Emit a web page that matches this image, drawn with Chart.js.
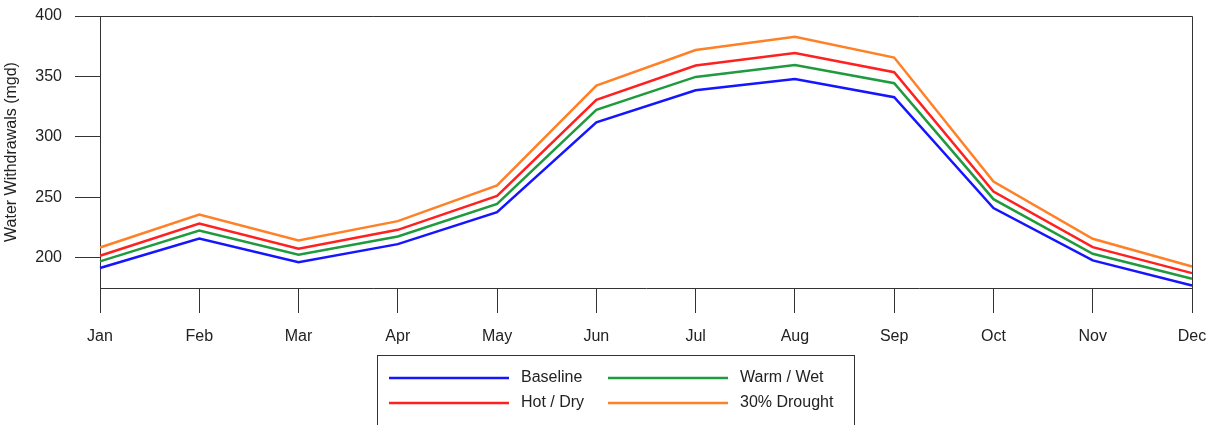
<!DOCTYPE html>
<html>
<head>
<meta charset="utf-8">
<script src="https://cdn.jsdelivr.net/npm/chart.js@4"></script>
<style>
  html, body { margin: 0; padding: 0; background: #fff; }
  #wrap { width: 1217px; height: 425px; }
</style>
</head>
<body>
<div id="wrap"><canvas id="chart" width="1217" height="425"></canvas></div>
<script>
// data
const months = ["Jan", "Feb", "Mar", "Apr", "May", "Jun", "Jul", "Aug", "Sep", "Oct", "Nov", "Dec"];
const baseline = [191.5, 216, 196.4, 211.3, 237.7, 312, 338.6, 347.9, 332.8, 241.1, 197.8, 177.1];
const warmWet  = [197, 222.6, 202.5, 217.6, 244.6, 322.3, 349.6, 359.5, 344.4, 248.5, 203.3, 182.6];
const hotDry   = [201.7, 228.4, 207.4, 223.1, 251.2, 330.6, 359, 369.4, 353.5, 254.8, 208.8, 187.3];
const drought  = [208.5, 235.8, 214.3, 230.3, 259.8, 342.4, 371.9, 382.9, 365.6, 263.1, 215.7, 192.8];
const majorTicks = [200, 250, 300, 350, 400];
const minorTicks = [175, 225, 275, 325, 375];

const axisColor = "#333";
const textColor = "#222";
const font = { family: "'Liberation Sans', Arial, sans-serif", size: 16 };

// box around plot area + custom boxed legend
const framePlugin = {
    id: "frame",
    afterDraw(chart) {
        const ctx = chart.ctx;
        const a = chart.chartArea;
        ctx.save();
        ctx.strokeStyle = axisColor;
        ctx.lineWidth = 1;
        ctx.beginPath();
        ctx.moveTo(a.left, a.top + 0.5);
        ctx.lineTo(a.right + 0.5, a.top + 0.5);
        ctx.lineTo(a.right + 0.5, a.bottom);
        ctx.stroke();

        // legend
        const bx = 377, by = 355, bw = 477;
        ctx.strokeStyle = "#333";
        ctx.strokeRect(bx + 0.5, by + 0.5, bw, 120);
        ctx.font = "16px 'Liberation Sans', Arial, sans-serif";
        ctx.textBaseline = "middle";
        ctx.fillStyle = textColor;
        chart.data.datasets.forEach((ds, i) => {
            const col = i % 2, row = Math.floor(i / 2);
            const x = bx + 12 + col * 219;
            const y = 378 + row * 25;
            ctx.strokeStyle = ds.borderColor;
            ctx.lineWidth = 2.5;
            ctx.beginPath();
            ctx.moveTo(x, y);
            ctx.lineTo(x + 120, y);
            ctx.stroke();
            ctx.fillText(ds.label, x + 132, y);
        });
        ctx.restore();
    }
};

const noPadY = (w) => (s) => { s.width = w; s.paddingTop = 0; s.paddingBottom = 0; };

new Chart(document.getElementById("chart"), {
    type: "line",
    data: {
        labels: months,
        datasets: [
            { label: "Baseline", data: baseline, borderColor: "#1515ff" },
            { label: "Warm / Wet", data: warmWet, borderColor: "#1f9a3e" },
            { label: "Hot / Dry", data: hotDry, borderColor: "#ff2020" },
            { label: "30% Drought", data: drought, borderColor: "#ff8026" },
        ].map((d) => ({ ...d, borderWidth: 2.5, pointRadius: 0, tension: 0, fill: false })),
    },
    options: {
        responsive: false,
        animation: false,
        layout: { padding: { top: 16, right: 25, left: 0, bottom: 0 } },
        plugins: { legend: { display: false }, tooltip: { enabled: false } },
        scales: {
            x: {
                offset: false,
                grid: { drawOnChartArea: false, tickLength: 25, color: axisColor },
                border: { display: true, color: axisColor },
                ticks: { color: textColor, font: font, padding: 14, maxRotation: 0 },
                afterFit: (s) => { s.height = 137; s.paddingLeft = 0; s.paddingRight = 0; },
            },
            y: {
                position: "left",
                min: 175,
                max: 400,
                afterBuildTicks: (s) => { s.ticks = majorTicks.map((v) => ({ value: v })); },
                grid: { drawOnChartArea: false, tickLength: 25, color: axisColor },
                border: { display: true, color: axisColor },
                ticks: { color: textColor, font: font, padding: 13 },
                title: { display: true, text: "Water Withdrawals (mgd)", color: textColor, font: font, padding: { top: 2, bottom: 0 } },
                afterFit: noPadY(100),
            },
            yMinor: {
                position: "left",
                min: 175,
                max: 400,
                afterBuildTicks: (s) => { s.ticks = minorTicks.map((v) => ({ value: v })); },
                grid: { drawOnChartArea: false, tickLength: 12, color: axisColor },
                border: { display: false },
                ticks: { display: false },
                afterFit: noPadY(0),
            },
        },
    },
    plugins: [framePlugin],
});
</script>
</body>
</html>
